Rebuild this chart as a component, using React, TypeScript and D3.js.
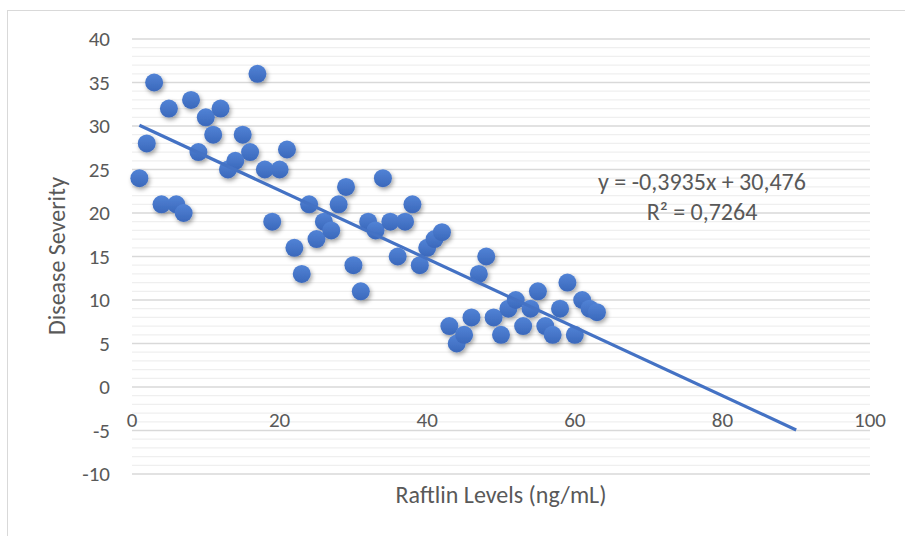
import React from "react";
import * as d3 from "d3";

// raftlin level (ng/mL) of each sample
const raftlin = [
  1, 2, 3, 4, 5, 6, 7, 8, 9, 10, 11, 12, 13, 14, 15, 16, 17, 18, 19, 20, 21,
  22, 23, 24, 25, 26, 27, 28, 29, 30, 31, 32, 33, 34, 35, 36, 37, 38, 39, 40,
  41, 42, 43, 44, 45, 46, 47, 48, 49, 50, 51, 52, 53, 54, 55, 56, 57, 58, 59,
  60, 61, 62, 63,
];
// disease severity score of each sample
const severity = [
  24, 28, 35, 21, 32, 21, 20, 33, 27, 31, 29, 32, 25, 26, 29, 27, 36, 25, 19,
  25, 27.3, 16, 13, 21, 17, 19, 18, 21, 23, 14, 11, 19, 18, 24, 19, 15, 19, 21,
  14, 16, 17, 17.8, 7, 5, 6, 8, 13, 15, 8, 6, 9, 10, 7, 9, 11, 7, 6, 9, 12, 6,
  10, 9, 8.6,
];
const xTicks = [0, 20, 40, 60, 80, 100];
const yTicks = [-10, -5, 0, 5, 10, 15, 20, 25, 30, 35, 40];
const slope = -0.3935;
const intercept = 30.476;
const trendRange = [1, 90];

const width = 905;
const height = 536;
const font = "Carlito, Calibri, Lato, sans-serif";
const textColor = "#595959";
const blue = "#4472C4";

export default function App() {
  const x = d3.scaleLinear().domain([0, 100]).range([132, 870]);
  const y = d3.scaleLinear().domain([-10, 40]).range([474, 39]);

  const minor = d3.range(-10, 40, 1).filter((v) => v % 5 !== 0);
  const points = raftlin.map((v, i) => [v, severity[i]]);
  const trend = d3
    .line<number>()
    .x((v) => x(v))
    .y((v) => y(intercept + slope * v));

  return (
    <svg
      width={width}
      height={height}
      style={{ position: "absolute", left: 0, top: 0 }}
      fontFamily={font}
    >
      <defs>
        <linearGradient id="dot" x1="0" y1="0" x2="0" y2="1">
          <stop offset="0" stopColor="#5283d6" />
          <stop offset="1" stopColor="#3a68bb" />
        </linearGradient>
        <filter id="shadow" x="-50%" y="-50%" width="200%" height="200%">
          <feDropShadow dx="1.5" dy="2.5" stdDeviation="2" floodColor="#000" floodOpacity="0.35" />
        </filter>
      </defs>
      <rect x={7.5} y={10.5} width={width} height={height} fill="#fff" stroke="#d9d9d9" />

      {minor.map((v) => (
        <line key={"m" + v} x1={x(0)} x2={x(100)} y1={y(v)} y2={y(v)} stroke="#efefef" strokeWidth={1.3} />
      ))}
      {yTicks.map((v) => (
        <line key={"g" + v} x1={x(0)} x2={x(100)} y1={y(v)} y2={y(v)} stroke="#d9d9d9" strokeWidth={1.3} />
      ))}

      {yTicks.map((v) => (
        <text key={"y" + v} x={110} y={y(v)} dy="0.35em" textAnchor="end" fontSize={21} fill={textColor}>
          {v}
        </text>
      ))}
      {xTicks.map((v) => (
        <text key={"x" + v} x={x(v)} y={420} dy="0.35em" textAnchor="middle" fontSize={21} fill={textColor}>
          {v}
        </text>
      ))}

      <text
        transform={`translate(57,256) rotate(-90)`}
        dy="0.35em"
        textAnchor="middle"
        fontSize={24}
        fill={textColor}
      >
        Disease Severity
      </text>
      <text x={501} y={495} dy="0.35em" textAnchor="middle" fontSize={24} fill={textColor}>
        Raftlin Levels (ng/mL)
      </text>

      <g filter="url(#shadow)">
        {points.map(([a, b], i) => (
          <circle key={i} cx={x(a)} cy={y(b)} r={9} fill="url(#dot)" />
        ))}
      </g>

      <path d={trend(trendRange) || ""} fill="none" stroke={blue} strokeWidth={3.2} />

      <text x={702} y={182} dy="0.35em" textAnchor="middle" fontSize={24} fill={textColor}>
        y = -0,3935x + 30,476
      </text>
      <text x={702} y={212} dy="0.35em" textAnchor="middle" fontSize={24} fill={textColor}>
        R² = 0,7264
      </text>
    </svg>
  );
}
